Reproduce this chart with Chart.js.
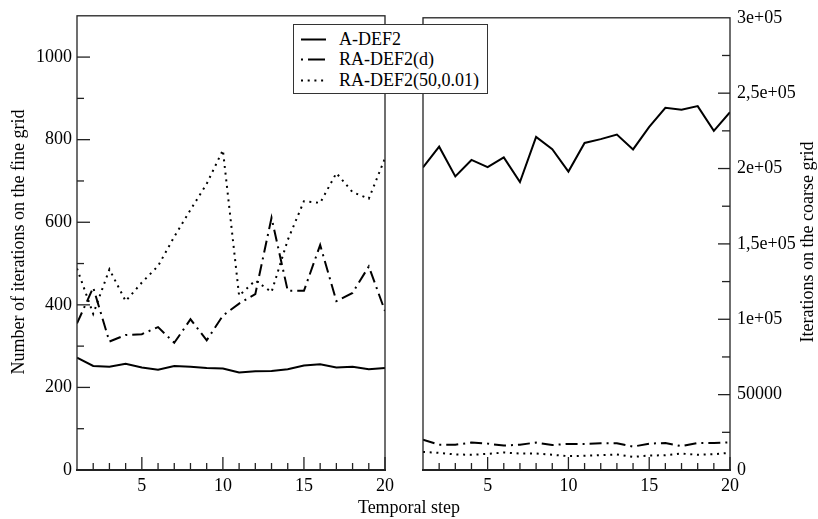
<!DOCTYPE html>
<html><head><meta charset="utf-8">
<script src="https://cdn.jsdelivr.net/npm/chart.js@4/dist/chart.umd.min.js"></script>
<style>
body{margin:0;background:#fff;width:818px;height:519px;overflow:hidden;position:relative;font-family:"Liberation Serif","Times New Roman",serif;}
canvas{position:absolute;top:0;}
#c1{left:0}
#c2{left:400px}
.lbl{position:absolute;font-size:18px;line-height:20px;color:#000;white-space:nowrap;text-align:center;}
#legend{position:absolute;left:293px;top:24px;width:195px;height:70px;border:1px solid #333;background:#fff;box-sizing:border-box;font-size:18px;color:#000;}
#legend .row{position:absolute;left:0;height:21px;width:193px;}
#legend svg{position:absolute;left:7px;top:0;}
#legend span{position:absolute;left:45px;top:0;line-height:21px;}
</style></head>
<body>
<canvas id="c1" width="400" height="519"></canvas>
<canvas id="c2" width="418" height="519"></canvas>
<div id="legend">
  <div class="row" style="top:4px"><svg width="26" height="21"><line x1="0" y1="10.5" x2="25" y2="10.5" stroke="#000" stroke-width="2"/></svg><span>A-DEF2</span></div>
  <div class="row" style="top:24px"><svg width="26" height="21"><line x1="0" y1="10.5" x2="25" y2="10.5" stroke="#000" stroke-width="2" stroke-dasharray="2 5 17 10"/></svg><span>RA-DEF2(d)</span></div>
  <div class="row" style="top:45px"><svg width="26" height="21"><line x1="0" y1="10.5" x2="25" y2="10.5" stroke="#000" stroke-width="2" stroke-dasharray="2 4.7"/></svg><span>RA-DEF2(50,0.01)</span></div>
</div>
<div class="lbl" style="left:0;width:818px;top:497px">Temporal step</div>
<div class="lbl" style="left:-182px;width:400px;top:232px;transform:rotate(-90deg)">Number of iterations on the fine grid</div>
<div class="lbl" style="left:607px;width:400px;top:232px;transform:rotate(-90deg)">Iterations on the coarse grid</div>
<script>
const steps = [1,2,3,4,5,6,7,8,9,10,11,12,13,14,15,16,17,18,19,20];
const seriesNames = ["A-DEF2","RA-DEF2(d)","RA-DEF2(50,0.01)"];
// fine grid iterations (left panel)
const fineADEF2 = [272,252,250,257,248,243,252,250,247,246,236,239,240,244,253,256,248,250,244,247];
const fineRAd   = [355,442,311,327,329,346,308,365,314,374,403,426,611,434,434,545,409,429,493,385];
const fineRA50  = [488,378,486,409,454,494,565,630,693,775,422,459,431,557,651,647,719,673,657,755];
// coarse grid iterations (right panel)
const coarseADEF2 = [200700,214500,194800,205700,200900,207400,191000,221000,212900,198000,217000,219500,222500,212700,227600,240300,239000,241400,225000,237400];
const coarseRAd   = [20100,16800,16800,18200,17500,16200,16800,18200,16600,17300,17300,17700,17700,15500,17500,17900,15800,17900,17900,18400];
const coarseRA50  = [12000,11400,10300,10100,10700,11600,10900,10900,10100,9200,9400,9800,10300,8700,9600,9800,10900,10100,10500,11400];
// tick values / labels
const xTicks = [5,10,15,20];
const fineTicks = [0,200,400,600,800,1000];
const coarseTicks = [0,50000,100000,150000,200000,250000,300000];
const coarseTickLabels = ["0","50000","1e+05","1,5e+05","2e+05","2,5e+05","3e+05"];

Chart.defaults.font.family = 'Liberation Serif';
Chart.defaults.font.size = 18;
Chart.defaults.color = '#000';
const FONT = {family:'Liberation Serif', size:18};
const pts = arr => steps.map((s,i)=>({x:s,y:arr[i]}));
const styles = [
  {borderDash:[]},
  {borderDash:[12,5,2,5]},
  {borderDash:[2,4.7]}
];
function makeDatasets(arrs){
  return arrs.map((a,i)=>({label:seriesNames[i],data:pts(a),borderColor:'#000',borderWidth:2,pointRadius:0,tension:0,fill:false,borderDash:styles[i].borderDash,borderCapStyle:'butt'}));
}

const framePlugin = {
  id:'frame',
  afterDraw(chart, args, opts){
    const ctx = chart.ctx;
    const {left,right,top,bottom} = chart.chartArea;
    const line=(x1,y1,x2,y2)=>{ctx.beginPath();ctx.moveTo(x1,y1);ctx.lineTo(x2,y2);ctx.stroke();};
    ctx.save();
    ctx.strokeStyle='#222';
    ctx.lineWidth=1.3;
    ctx.strokeRect(left,top,right-left,bottom-top);
    ctx.lineWidth=2;
    line(left-1,bottom,right+1,bottom);
    ctx.lineWidth=1.3;
    const xs = chart.scales.x;
    steps.forEach(s=>{
      if(s===1) return;
      const px = xs.getPixelForValue(s);
      const len = (s%5===0)?13:7;
      line(px,bottom,px,bottom-len);
    });
    const ys = chart.scales.y;
    const major = opts.major, minorStep = opts.minorStep;
    const maxV = ys.max;
    for(let v=minorStep; v<maxV; v+=minorStep){
      const isMajor = major.includes(v);
      const len = isMajor?opts.majorLen:opts.minorLen;
      const py = ys.getPixelForValue(v);
      if(opts.side==='left') line(left,py,left+len,py);
      else line(right,py,right-len,py);
    }
    ctx.restore();
  }
};

function makeX(){ return {
  type:'linear', min:1, max:20,
  grid:{display:false, drawTicks:false}, border:{display:false},
  ticks:{font:FONT, color:'#000', padding:5, autoSkip:false, maxRotation:0, callback:v=>String(v)},
  afterBuildTicks: s=>{ s.ticks = xTicks.map(v=>({value:v})); },
  afterFit: s=>{ s.height = 49; }
};}

new Chart(document.getElementById('c1'),{
  type:'line',
  data:{datasets:makeDatasets([fineADEF2,fineRAd,fineRA50])},
  options:{
    responsive:false, animation:false, devicePixelRatio:1,
    layout:{padding:{left:0,right:15,top:13,bottom:0}},
    plugins:{legend:{display:false},tooltip:{enabled:false},
      frame:{side:'left',major:fineTicks,minorStep:100,majorLen:13,minorLen:7}},
    scales:{
      x:makeX(),
      y:{type:'linear',min:0,max:1100,position:'left',
        grid:{display:false,drawTicks:false},border:{display:false},
        ticks:{font:FONT,color:'#000',padding:5,callback:v=>String(v)},
        afterBuildTicks: s=>{ s.ticks = fineTicks.map(v=>({value:v})); },
        afterFit: s=>{ s.width = 77; }
      }
    }
  },
  plugins:[framePlugin]
});

new Chart(document.getElementById('c2'),{
  type:'line',
  data:{datasets:makeDatasets([coarseADEF2,coarseRAd,coarseRA50])},
  options:{
    responsive:false, animation:false, devicePixelRatio:1,
    layout:{padding:{left:23,right:0,top:13,bottom:0}},
    plugins:{legend:{display:false},tooltip:{enabled:false},
      frame:{side:'right',major:coarseTicks,minorStep:25000,majorLen:12,minorLen:8}},
    scales:{
      x:makeX(),
      y:{type:'linear',min:0,max:300000,position:'right',
        grid:{display:false,drawTicks:false},border:{display:false},
        ticks:{font:FONT,color:'#000',padding:7,
          callback:(v)=>{const i=coarseTicks.indexOf(v);return i>=0?coarseTickLabels[i]:'';}},
        afterBuildTicks: s=>{ s.ticks = coarseTicks.map(v=>({value:v})); },
        afterFit: s=>{ s.width = 88; }
      }
    }
  },
  plugins:[framePlugin]
});
</script>
</body></html>
